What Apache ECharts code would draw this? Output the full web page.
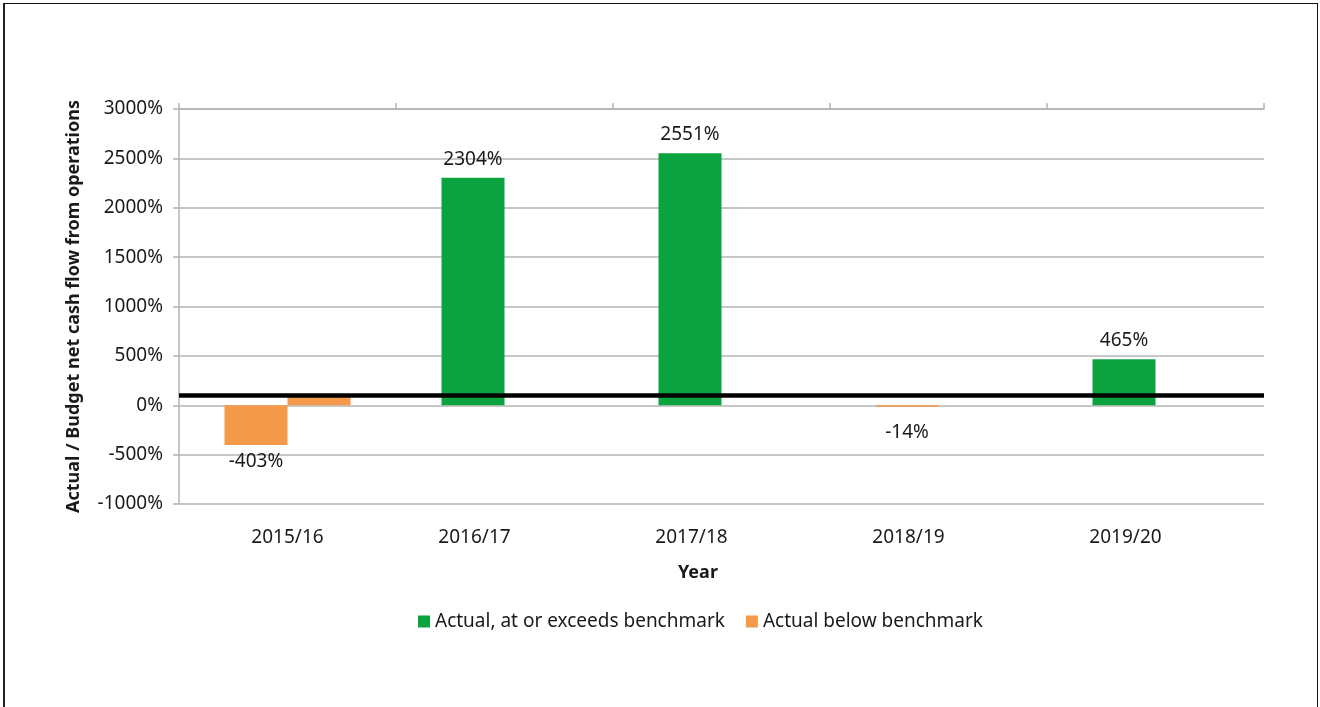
<!DOCTYPE html>
<html>
<head>
<meta charset="utf-8">
<script src="https://cdn.jsdelivr.net/npm/echarts@6/dist/echarts.min.js"></script>
<style>
  html, body { margin: 0; padding: 0; background: #fff; }
  #wrap { position: relative; width: 1320px; height: 707px; overflow: hidden; }
  #chart { position: absolute; left: 0; top: 0; width: 1320px; height: 707px; }
  #frame { position: absolute; left: 3px; top: 3px; width: 1312px; height: 720px;
           border-top: 1px solid #111; border-right: 1px solid #111; border-left: 2px solid #222;
           pointer-events: none; }
</style>
</head>
<body>
<div id="wrap">
  <div id="chart"></div>
  <div id="frame"></div>
</div>
<script>
// ---- data ----
const categories = ['2015/16', '2016/17', '2017/18', '2018/19', '2019/20'];
const atOrAboveValues = [null, 2304, 2551, null, 465];   // green (left slot)
const belowValues = [-403, null, null, -14, null];       // orange (left slot)
const benchmarkBar = [100, null, null, null, null];      // orange (right slot), 2015/16 only
const benchmark = 100;
const yTicks = { min: -1000, max: 3000, interval: 500 };

const GREEN = '#0AA340';
const ORANGE = '#F5994A';
const GRID = '#b4b4b4';
const TXT = '#1a1a1a';
const FONT = 'Noto Sans';

const chart = echarts.init(document.getElementById('chart'));
const pct = p => p.value + '%';

// label offset below negative bars (Excel placed the small one further down)
const belowData = belowValues.map(v => v == null ? null :
  { value: v, label: { distance: v < -100 ? 7 : 16 } });

chart.setOption({
  animation: false,
  textStyle: { fontFamily: FONT },
  grid: { left: 179, right: 56, top: 109, bottom: 203, containLabel: false },
  legend: {
    data: ['Actual, at or exceeds benchmark', 'Actual below benchmark'],
    left: 418, top: 612, padding: 0,
    itemWidth: 12, itemHeight: 12, itemGap: 21,
    icon: 'rect',
    textStyle: { fontFamily: FONT, fontSize: 19, color: TXT }
  },
  graphic: [{
    type: 'text', left: 678, top: 564,
    style: { text: 'Year', font: 'bold 18px "Noto Sans"', fill: TXT }
  }],
  xAxis: [
    { type: 'category', data: categories, position: 'bottom',
      axisLine: { show: false }, axisTick: { show: false },
      axisLabel: {
        fontSize: 19, color: TXT, margin: 24, fontFamily: FONT,
        formatter: (v, i) => i === 0 ? v : '{s|' + v + '}',
        rich: { s: { fontSize: 19, color: TXT, fontFamily: FONT, padding: [0, 60, 0, 0] } }
      } },
    { type: 'category', data: categories, position: 'top',
      axisLine: { show: true, lineStyle: { color: GRID, width: 1.5 } },
      axisTick: { show: true, inside: false, length: 6, lineStyle: { color: GRID, width: 1.5 } },
      axisLabel: { show: false }, splitLine: { show: false } }
  ],
  yAxis: {
    type: 'value', min: yTicks.min, max: yTicks.max, interval: yTicks.interval,
    name: 'Actual / Budget net cash flow from operations',
    nameLocation: 'middle', nameRotate: 90, nameGap: 96,
    nameTextStyle: { fontFamily: FONT, fontSize: 18, fontWeight: 'bold', color: TXT },
    axisLine: { show: true, lineStyle: { color: GRID, width: 1.5 } },
    axisTick: { show: true, inside: false, length: 6, lineStyle: { color: GRID, width: 1.5 } },
    axisLabel: { formatter: v => v + '%', fontSize: 19, color: TXT, margin: 16, fontFamily: FONT },
    splitLine: { show: true, lineStyle: { color: GRID, width: 1.5 } }
  },
  series: [
    { name: 'Actual, at or exceeds benchmark', type: 'bar', xAxisIndex: 0, stack: 'actual',
      data: atOrAboveValues, barWidth: 63, barGap: '0%', itemStyle: { color: GREEN },
      label: { show: true, position: 'top', distance: 9, formatter: pct,
               fontSize: 19, color: TXT, fontFamily: FONT } },
    { name: 'Actual below benchmark', type: 'bar', xAxisIndex: 0, stack: 'actual',
      data: belowData, barWidth: 63, barGap: '0%', itemStyle: { color: ORANGE },
      label: { show: true, position: 'bottom', distance: 10, formatter: pct,
               fontSize: 19, color: TXT, fontFamily: FONT } },
    { name: 'Benchmark', type: 'bar', xAxisIndex: 0,
      data: benchmarkBar, barWidth: 63, barGap: '0%', itemStyle: { color: ORANGE },
      markLine: {
        silent: true, symbol: 'none', animation: false,
        label: { show: false },
        lineStyle: { color: '#000', width: 4.5, type: 'solid' },
        data: [{ yAxis: benchmark }]
      } }
  ]
});
</script>
</body>
</html>
